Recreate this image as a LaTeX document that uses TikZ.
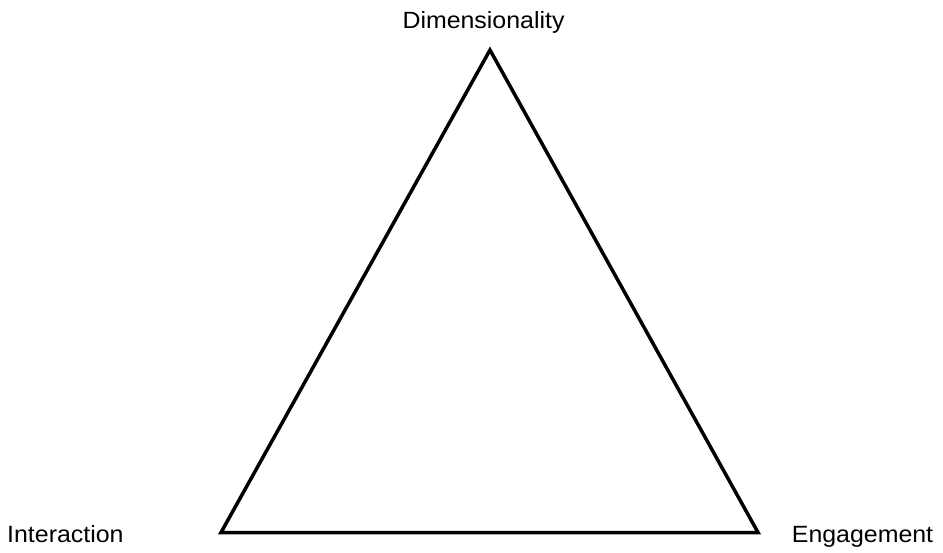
\documentclass[tikz,border=0pt]{standalone}
\usepackage{fontspec}
\setmainfont{Liberation Sans}
\usetikzlibrary{positioning}

\begin{document}
\begin{tikzpicture}[x=1pt,y=-1pt,
    lbl/.style={inner sep=0pt,font=\fontsize{23.5}{28}\selectfont,xscale=1.06,transform shape}]
        \useasboundingbox (0,0) rectangle (943,553);

        \coordinate (Top) at (490,50); % вершина
        \coordinate (BL) at (221,532.5);
        \coordinate (BR) at (758,532.5);

        \draw[line width=3.5pt,miter limit=10] (Top) -- (BR) -- (BL) -- cycle;

        % Підписи вершин
        \node[lbl,anchor=base] (dim) at (483.5,28.5) {Dimensionality};
        \node[lbl,anchor=base west] (inter) at (7,542.5) {Interaction};
        \node[lbl,anchor=base west] (eng) at (791.7,542.5) {Engagement};
    \end{tikzpicture}
\end{document}
